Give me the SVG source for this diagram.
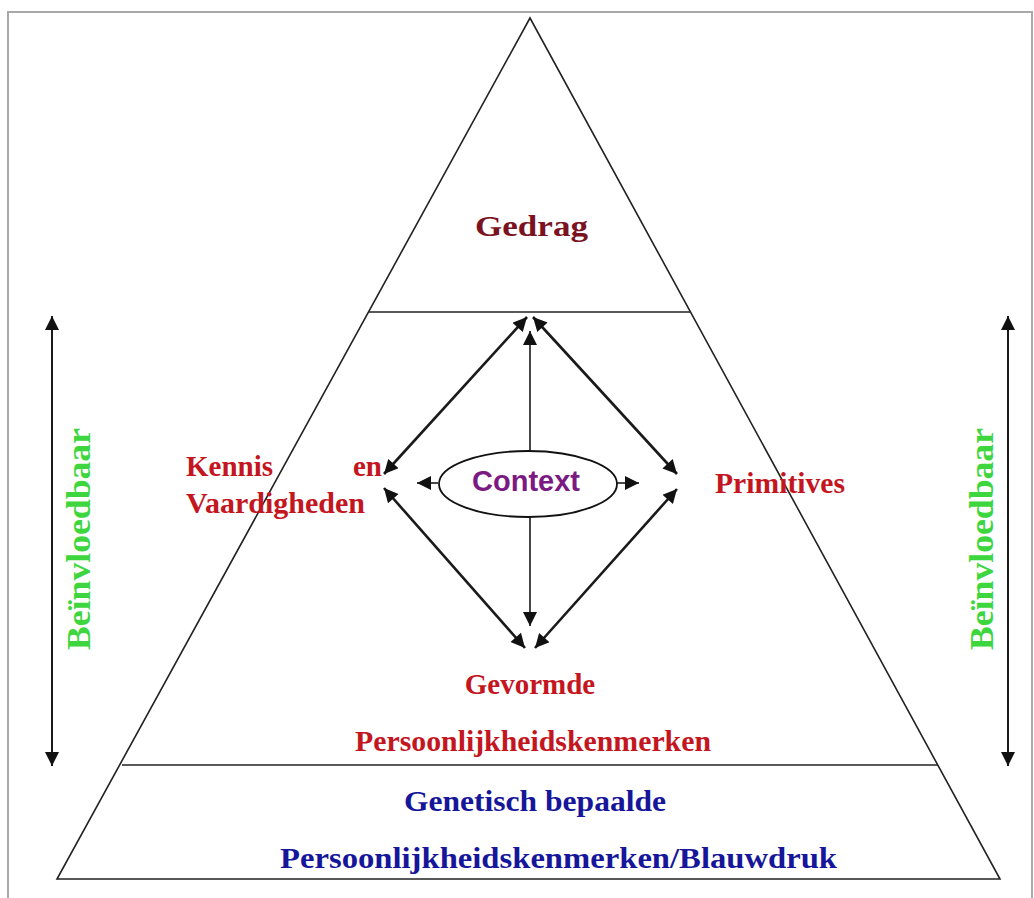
<svg xmlns="http://www.w3.org/2000/svg" width="1034" height="898" viewBox="0 0 1034 898">
<defs>
<style>
.ln{stroke:#1a1a1a;fill:none}
.tri{stroke:#222;stroke-width:1.6;fill:none}
.t{font-family:"Liberation Serif","Times New Roman",serif;font-weight:bold;font-size:29px}
.red{fill:#c4161f}
.blue{fill:#16169a}
.grn{fill:#3ed63e;font-size:34px}
.ctx{font-family:"Liberation Sans",Arial,sans-serif;font-weight:bold;font-size:29px;fill:#7b1a82}
</style>
<marker id="ah" viewBox="0 0 10 10" refX="10" refY="5" markerWidth="18" markerHeight="14" markerUnits="userSpaceOnUse" orient="auto-start-reverse">
<path d="M0,0 L10,5 L0,10 Z" fill="#111"/>
</marker>
</defs>
<rect x="8" y="12" width="1024" height="900" fill="#fff" stroke="#a8a8a8" stroke-width="2"/>
<g id="pyramid">
<polygon class="tri" points="530,18 57,879 1000,879"/>
<line class="tri" x1="369" y1="312" x2="691" y2="312"/>
<line class="tri" x1="122" y1="765" x2="938" y2="765"/>
</g>
<g id="connectors">
<line class="ln" stroke-width="2.6" x1="384" y1="474" x2="527" y2="317" marker-start="url(#ah)" marker-end="url(#ah)"/>
<line class="ln" stroke-width="2.6" x1="533" y1="317" x2="677" y2="474" marker-start="url(#ah)" marker-end="url(#ah)"/>
<line class="ln" stroke-width="2.6" x1="384" y1="488" x2="525" y2="648" marker-start="url(#ah)" marker-end="url(#ah)"/>
<line class="ln" stroke-width="2.6" x1="677" y1="489" x2="535" y2="648" marker-start="url(#ah)" marker-end="url(#ah)"/>
<line class="ln" stroke-width="1.6" x1="530" y1="451" x2="530" y2="331" marker-end="url(#ah)"/>
<line class="ln" stroke-width="1.6" x1="530" y1="517" x2="530" y2="626" marker-end="url(#ah)"/>
<line class="ln" stroke-width="1.6" x1="438" y1="483" x2="417" y2="483" marker-end="url(#ah)"/>
<line class="ln" stroke-width="1.6" x1="617" y1="483" x2="639" y2="483" marker-end="url(#ah)"/>
<line class="ln" stroke-width="2" x1="52" y1="316" x2="52" y2="766" marker-start="url(#ah)" marker-end="url(#ah)"/>
<line class="ln" stroke-width="2" x1="1008" y1="316" x2="1008" y2="766" marker-start="url(#ah)" marker-end="url(#ah)"/>
</g>
<g id="gedrag"><text class="t" x="475" y="236" textLength="113" lengthAdjust="spacingAndGlyphs" font-size="35" style="fill:#7a1222">Gedrag</text></g>
<g id="context">
<ellipse cx="528" cy="484" rx="89" ry="33" fill="#fff" stroke="#111" stroke-width="1.8"/>
<text class="ctx" x="472" y="491" textLength="108" lengthAdjust="spacingAndGlyphs">Context</text>
</g>
<g id="kennis">
<text class="t red" x="186" y="476">Kennis</text>
<text class="t red" x="382" y="476" text-anchor="end">en</text>
<text class="t red" x="186" y="513" textLength="179" lengthAdjust="spacingAndGlyphs">Vaardigheden</text>
</g>
<g id="primitives"><text class="t red" x="715" y="493" textLength="130" lengthAdjust="spacingAndGlyphs">Primitives</text></g>
<g id="gevormde">
<text class="t red" x="530" y="694" text-anchor="middle">Gevormde</text>
<text class="t red" x="355" y="751" textLength="356" lengthAdjust="spacingAndGlyphs">Persoonlijkheidskenmerken</text>
</g>
<g id="genetisch">
<text class="t blue" x="404" y="811" textLength="262" lengthAdjust="spacingAndGlyphs" font-size="32">Genetisch bepaalde</text>
<text class="t blue" x="280" y="868" textLength="557" lengthAdjust="spacingAndGlyphs" font-size="32">Persoonlijkheidskenmerken/Blauwdruk</text>
</g>
<g id="beinvloedbaar-left"><text class="t grn" transform="translate(90,650) rotate(-90)" x="0" y="0" textLength="222" lengthAdjust="spacingAndGlyphs">Beïnvloedbaar</text></g>
<g id="beinvloedbaar-right"><text class="t grn" transform="translate(993,650) rotate(-90)" x="0" y="0" textLength="222" lengthAdjust="spacingAndGlyphs">Beïnvloedbaar</text></g>
</svg>
